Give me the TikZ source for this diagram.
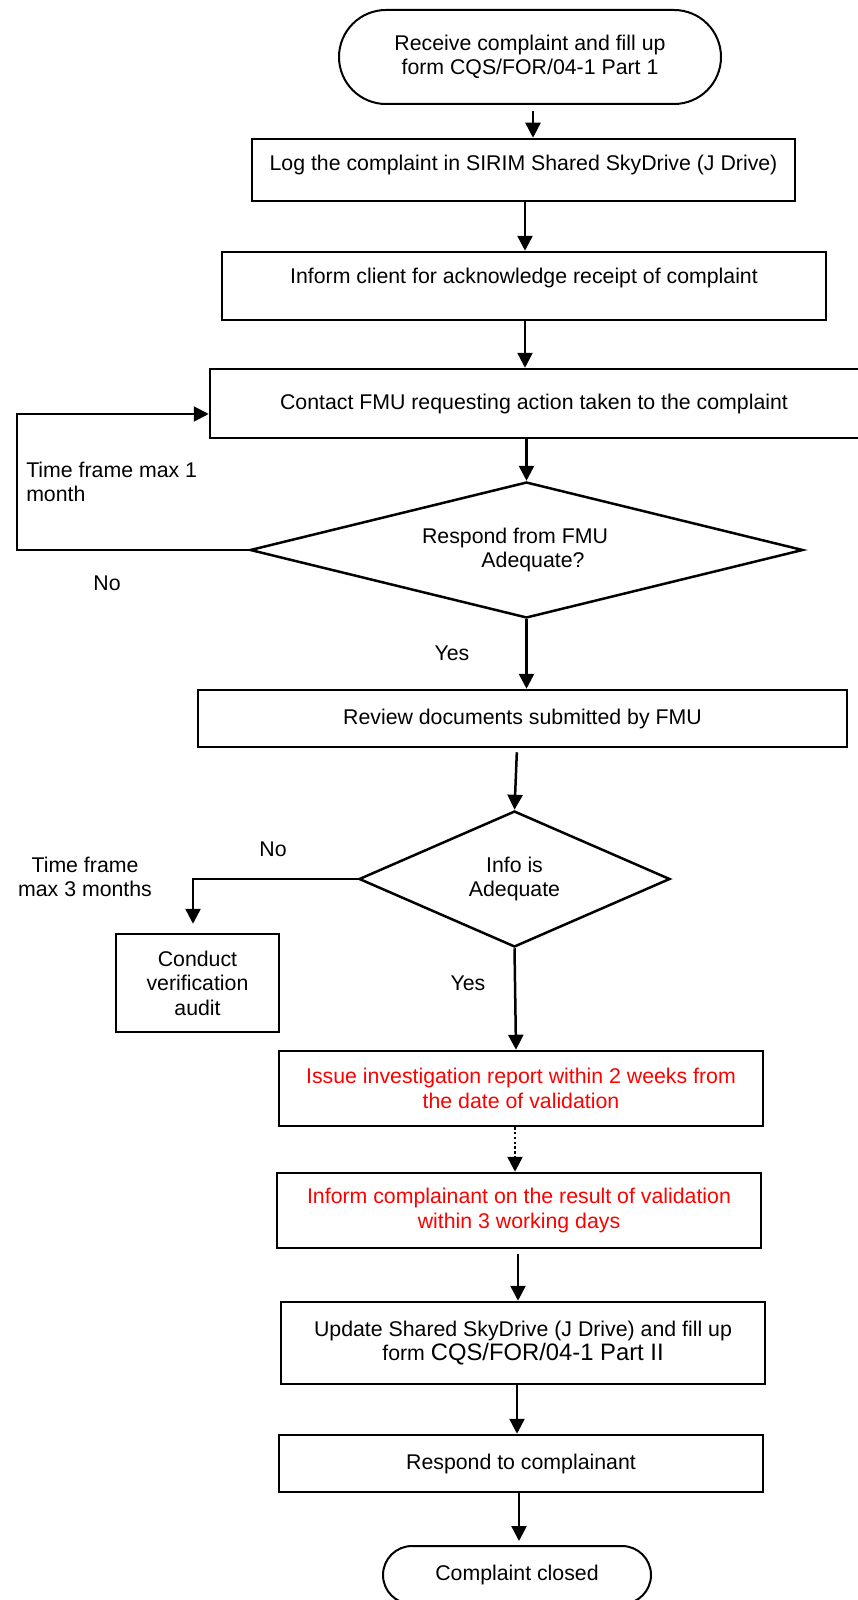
\documentclass[tikz,border=0pt]{standalone}
\usepackage{fontspec}
\setmainfont{Liberation Sans}
\usetikzlibrary{
  shapes.geometric, % diamond
  shapes.misc,      % rounded rectangle
  arrows.meta,
  positioning,
  calc,
}
\def\mypx{0.5pt}   % one pixel of the reference
\tikzset{
  font=\fontsize{10.65pt}{12.25pt}\selectfont,
  every picture/.style={line width=1.25pt},
  >={Triangle[length=7.5pt,width=7.5pt]},
  box w/.style={
    minimum width=#1*\mypx
  },
  box h/.style={
    minimum height=#1*\mypx
  },
  my box/.style={
    draw,
    rectangle,
    inner sep=0pt,
    align=center
  },
  my term/.style={
    my box,
    line width=1pt,
    rounded rectangle
  },
  my decision/.style={
    my box,
    diamond
  },
  my red/.style={
    text=red
  },
  my note/.style={
    inner sep=0pt,
    align=center
  },
  my dotted/.style={
    dash pattern=on 1.2pt off 1.2pt
  },
  thin line/.style={
    line width=1pt
  }
}
\begin{document}
\begin{tikzpicture}[x=0.5pt,y=-0.5pt]
\useasboundingbox (0,0) rectangle (857,1600);
% main column
\node[my term,box w=382,box h=94]     (start)   at (530,57)      {Receive complaint and fill up\\form CQS/FOR/04-1 Part 1};
\node[my box,box w=543,box h=62,text depth=7.2pt]  (log)    at (523.5,170) {Log the complaint in SIRIM Shared SkyDrive (J Drive)};
\node[my box,box w=604,box h=68,text depth=10.2pt] (inform) at (524,286)   {Inform client for acknowledge receipt of complaint};
\node[my box,box w=656,box h=69]      (contact) at (538,403.5)   {Contact FMU requesting action taken to the complaint\hspace*{4pt}};
\node[my decision,aspect=4.07,box w=553,box h=136] (resp) at (526.5,550) {Respond from FMU\hspace*{11.5pt}\\\hspace*{6.5pt}Adequate?};
\node[my box,box w=649,box h=57]      (review)  at (522.5,718.5) {Review documents submitted by FMU};
\node[my decision,aspect=2.29,box w=311,box h=136] (info) at (514.5,879) {Info is\\Adequate};
\node[my box,box w=163,box h=98]      (audit)   at (197.5,983)   {Conduct\\verification\\audit};
\node[my box,my red,box w=484,box h=75] (issue)  at (521,1088.5) {Issue investigation report within 2 weeks from\\the date of validation};
\node[my box,my red,box w=484,box h=75] (result) at (519,1210.5) {Inform complainant on the result of validation\\within 3 working days};
\node[my box,box w=484,box h=82]      (update)  at (523,1343)    {Update Shared SkyDrive (J Drive) and fill up\\form {\fontsize{11.9pt}{12.25pt}\selectfont CQS/FOR/04-1 Part II}};
\node[my box,box w=484,box h=57]      (reply)   at (521,1463.5)  {Respond to complainant};
\node[my term,box w=268,box h=58]     (closed)  at (517,1575)    {Complaint closed};
% labels
\node[my note,anchor=west,align=left] (tf1) at (25,482) {Time frame max 1\\month};
\node[my note] (no1)  at (107,583) {No};
\node[my note] (yes1) at (452,653) {Yes};
\node[my note] (no2)  at (273,849) {No};
\node[my note] (tf3)  at (85,877)  {Time frame\\max 3 months};
\node[my note] (yes2) at (468,983) {Yes};
% connectors
\draw[->,shorten <=3pt] (start.south -| 533,0) -- (log.north -| 533,0);
\draw[->] (log.south -| 525,0) -- (inform.north -| 525,0);
\draw[->] (inform.south -| 525,0) -- (contact.north -| 525,0);
\draw[->] (contact.south -| resp.north) -- (resp.north);
\draw[->] (resp.south) -- (resp.south |- review.north);
\draw[->,shorten <=2pt] (review.south -| 517,0) -- (info.north);
\draw[->] (info.south) -- (issue.north -| 516,0);
\draw[->,my dotted] (issue.south -| 515,0) -- (result.north -| 515,0);
\draw[->,shorten <=2.5pt] (result.south -| 518,0) -- (update.north -| 518,0);
\draw[->] (update.south -| 517,0) -- (reply.north -| 517,0);
\draw[->,shorten >=2pt] (reply.south -| 519,0) -- (closed.north -| 519,0);
\draw[->,thin line] (resp.west) -| (17,414) -- (contact.west |- 0,414);
\draw[->,shorten >=4.5pt] (info.west) -| (audit.north -| 193,0);
\end{tikzpicture}
\end{document}
